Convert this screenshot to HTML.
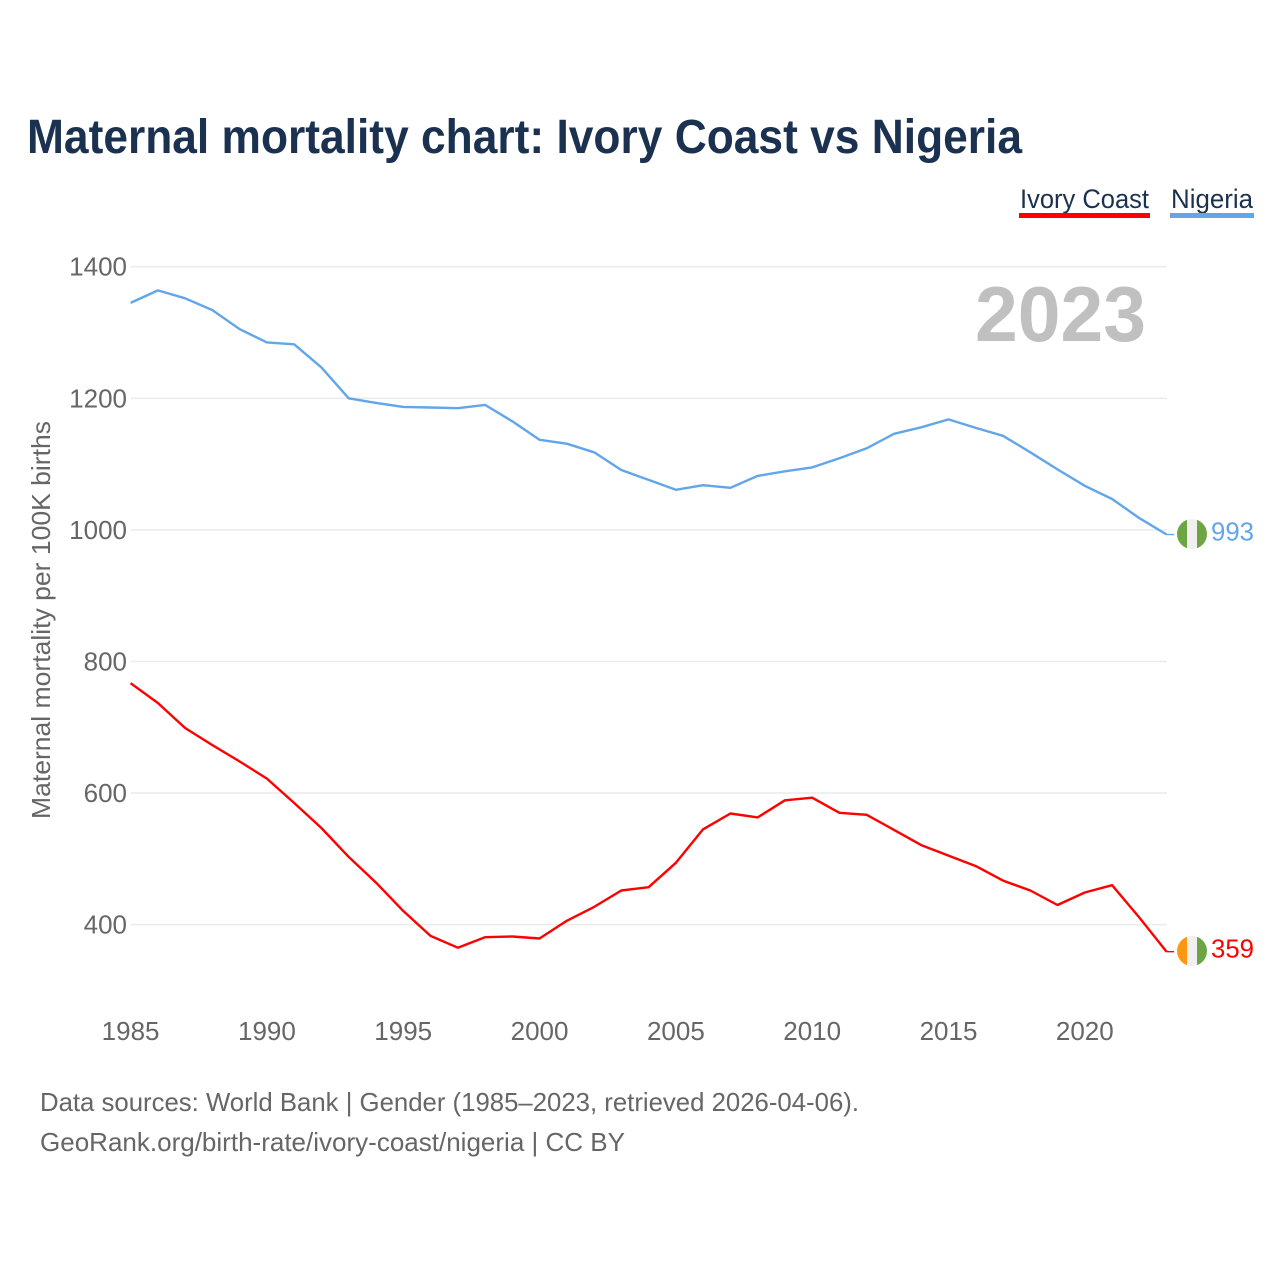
<!DOCTYPE html>
<html lang="en">
<head>
<meta charset="utf-8">
<title>Maternal mortality chart: Ivory Coast vs Nigeria</title>
<style>
html,body{margin:0;padding:0;background:#fff;width:1280px;height:1280px;overflow:hidden}
svg{display:block;font-family:"Liberation Sans",sans-serif}
</style>
</head>
<body>
<svg id="chart" xmlns="http://www.w3.org/2000/svg" width="1280" height="1280" viewBox="0 0 1280 1280">
  <rect x="0" y="0" width="1280" height="1280" fill="#ffffff"/>
  <text x="27" y="153" font-size="48" font-weight="700" fill="#1a3150" textLength="995" lengthAdjust="spacingAndGlyphs">Maternal mortality chart: Ivory Coast vs Nigeria</text>

  <g>
    <text x="1020" y="208" font-size="27" fill="#1a3150" textLength="129" lengthAdjust="spacingAndGlyphs">Ivory Coast</text>
    <rect x="1019" y="213" width="131" height="5" fill="#ff0000"/>
  </g>
  <g>
    <text x="1171" y="208" font-size="27" fill="#1a3150" textLength="82" lengthAdjust="spacingAndGlyphs">Nigeria</text>
    <rect x="1170" y="213" width="84" height="5" fill="#62a6ea"/>
  </g>

  <g id="grid"></g>
  <g id="yticks"></g>
  <g id="xticks"></g>

  <text transform="translate(50,620) rotate(-90)" text-anchor="middle" font-size="26" fill="#666666" textLength="398" lengthAdjust="spacingAndGlyphs">Maternal mortality per 100K births</text>

  <text x="975" y="341" font-size="78" font-weight="700" fill="#c0c0c0" textLength="171" lengthAdjust="spacingAndGlyphs">2023</text>

  <g id="series"></g>

  <g>
    <clipPath id="clip-ng"><circle cx="1192" cy="534" r="15"/></clipPath>
    <g clip-path="url(#clip-ng)">
      <rect x="1177" y="519" width="10" height="30" fill="#6da544"/>
      <rect x="1187" y="519" width="10" height="30" fill="#f0f0f0"/>
      <rect x="1197" y="519" width="10" height="30" fill="#6da544"/>
    </g>
  </g>
  <g>
    <clipPath id="clip-ci"><circle cx="1192" cy="951" r="15"/></clipPath>
    <g clip-path="url(#clip-ci)">
      <rect x="1177" y="936" width="10" height="30" fill="#ff9811"/>
      <rect x="1187" y="936" width="10" height="30" fill="#f0f0f0"/>
      <rect x="1197" y="936" width="10" height="30" fill="#6da544"/>
    </g>
  </g>

  <text x="40" y="1111" font-size="26" fill="#666666" textLength="819" lengthAdjust="spacingAndGlyphs">Data sources: World Bank | Gender (1985–2023, retrieved 2026-04-06).</text>
  <text x="40" y="1151" font-size="26" fill="#666666" textLength="585" lengthAdjust="spacingAndGlyphs">GeoRank.org/birth-rate/ivory-coast/nigeria | CC BY</text>
</svg>
<script>
var years = [1985,1986,1987,1988,1989,1990,1991,1992,1993,1994,1995,1996,1997,1998,1999,2000,2001,2002,2003,2004,2005,2006,2007,2008,2009,2010,2011,2012,2013,2014,2015,2016,2017,2018,2019,2020,2021,2022,2023];
var nigeriaValues = [1345,1364,1352,1334,1305,1285,1282,1247,1200,1193,1187,1186,1185,1190,1165,1137,1131,1118,1091,1076,1061,1068,1064,1082,1089,1095,1109,1124,1146,1156,1168,1155,1143,1118,1092,1067,1047,1018,993];
var ivoryCoastValues = [767,737,699,673,648,622,585,547,503,464,421,383,365,381,382,379,406,427,452,457,494,545,569,563,589,593,570,567,544,521,505,489,467,452,430,449,460,411,359];
var yTickValues = [400,600,800,1000,1200,1400];
var xTickValues = [1985,1990,1995,2000,2005,2010,2015,2020];

var NS = 'http://www.w3.org/2000/svg';
function xScale(year){ return 130.6 + (year - 1985) * (1166.6 - 130.6) / (2023 - 1985); }
function yScale(value){ return 924.7 - (value - 400) * 0.658; }
function make(tag, parent, attrs, content){
  var el = document.createElementNS(NS, tag);
  for (var k in attrs) el.setAttribute(k, attrs[k]);
  if (content !== undefined) el.textContent = content;
  parent.appendChild(el);
  return el;
}

var gridGroup = document.getElementById('grid');
var yTickGroup = document.getElementById('yticks');
yTickValues.forEach(function(v){
  var line = make('line', gridGroup, {x1:131, x2:1167, y1:yScale(v), y2:yScale(v), stroke:'#ececec', 'stroke-width':1.6});
  
  
  var label = make('text', yTickGroup, {x:127, y:yScale(v) + 9, 'text-anchor':'end', 'font-size':26, fill:'#666666'}, String(v));
  
  
});

var xTickGroup = document.getElementById('xticks');
xTickValues.forEach(function(v){
  var label = make('text', xTickGroup, {x:xScale(v), y:1040, 'text-anchor':'middle', 'font-size':26, fill:'#666666'}, String(v));
  
  
});

var seriesGroup = document.getElementById('series');
function drawSeries(values, color, key){
  var pts = values.map(function(v, i){ return xScale(years[i]).toFixed(1) + ',' + yScale(v).toFixed(1); });
  var last = values[values.length - 1];
  var lastY = yScale(last);
  var line = make('polyline', seriesGroup, {points:pts.join(' '), fill:'none', stroke:color, 'stroke-width':2.4, 'stroke-linejoin':'round'});
  
  
  var stub = make('line', seriesGroup, {x1:xScale(2023), x2:1174, y1:lastY, y2:lastY, stroke:color, 'stroke-width':1.4});
  
  
  var label = make('text', seriesGroup, {x:1211, y:lastY + 6, 'font-size':26, fill:color, textLength:43, lengthAdjust:'spacingAndGlyphs'}, String(last));
  
  
}
drawSeries(nigeriaValues, '#62a6ea', 'nigeria');
drawSeries(ivoryCoastValues, '#ff0000', 'ivory-coast');
</script>
</body>
</html>
